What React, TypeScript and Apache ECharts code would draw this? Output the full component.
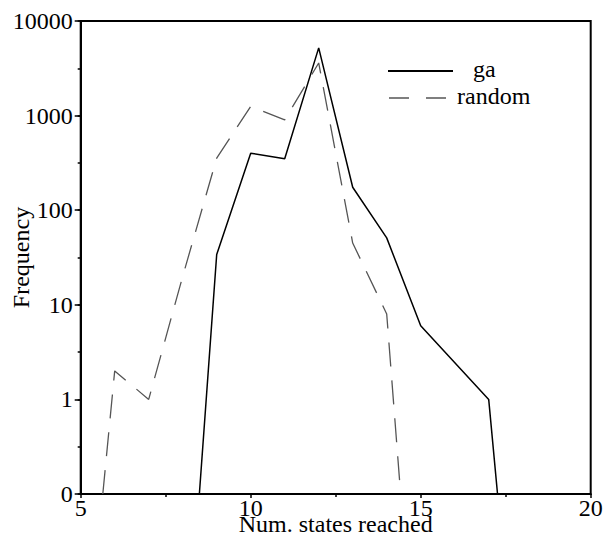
import React, { useEffect, useRef } from "react";
import * as echarts from "echarts";

// Number of states reached (x) and frequency (y); 0 frequency sits on the "0" floor of the log axis
const gaStates = [8.49, 9, 10, 11, 12, 13, 14, 15, 17, 17.26];
const gaFreq = [0, 34, 400, 350, 5200, 175, 51, 6, 1, 0];
const randomStates = [5.65, 6, 7, 8, 9, 10, 11, 12, 13, 14, 14.41];
const randomFreq = [0, 2, 1, 20, 355, 1250, 900, 3600, 45, 8, 0];
const seriesNames = ["ga", "random"];
const xTicks = [5, 10, 15, 20];
const yFloor = 0.1; // drawn as "0"
const yTop = 10000;

const FONT = "'Liberation Serif', 'Times New Roman', serif";
const FS = 24;

export default function App() {
  const ref = useRef<HTMLDivElement>(null);
  useEffect(() => {
    if (!ref.current) return;
    const chart = echarts.init(ref.current, undefined, { renderer: "svg" });
    const toData = (xs: number[], ys: number[]) =>
      xs.map((x, i) => [x, ys[i] <= 0 ? yFloor : ys[i]]);
    const gridLeft = 80.7;
    const gridTop = 21;
    const gridRight = 615 - 590.7;
    const gridBottom = 536 - 494;
    chart.setOption({
      animation: false,
      backgroundColor: "#fff",
      textStyle: { fontFamily: FONT },
      grid: {
        left: gridLeft,
        top: gridTop,
        right: gridRight,
        bottom: gridBottom,
        containLabel: false,
        outerBoundsMode: "none",
        show: true,
        borderColor: "#000",
        borderWidth: 2,
        backgroundColor: "transparent",
      },
      xAxis: {
        type: "value",
        min: xTicks[0],
        max: xTicks[xTicks.length - 1],
        interval: 5,
        name: "Num. states reached",
        nameLocation: "middle",
        nameGap: 18,
        nameMoveOverlap: false,
        nameTextStyle: { fontFamily: FONT, fontSize: FS, color: "#000" },
        axisLine: { show: true, onZero: false, lineStyle: { color: "#000", width: 2 } },
        axisTick: { show: true, length: 4, lineStyle: { color: "#000", width: 1.5 } },
        minorTick: { show: true, splitNumber: 2, length: 3, lineStyle: { color: "#000", width: 1.5 } },
        axisLabel: { fontFamily: FONT, fontSize: FS, color: "#000", margin: 2 },
        splitLine: { show: false },
      },
      yAxis: [
        {
          type: "log",
          logBase: 10,
          min: yFloor,
          max: yTop,
          splitNumber: 5,
          name: "Frequency",
          nameLocation: "middle",
          nameGap: 48,
          nameMoveOverlap: false,
          nameTextStyle: { fontFamily: FONT, fontSize: FS, color: "#000" },
          axisLine: { show: true, onZero: false, lineStyle: { color: "#000", width: 2 } },
          axisTick: { show: true, length: 6, lineStyle: { color: "#000", width: 1.5 } },
          axisLabel: {
            fontFamily: FONT,
            fontSize: FS,
            color: "#000",
            margin: 8,
            formatter: (v: number) => (v < 0.5 ? "0" : String(Math.round(v))),
          },
          splitLine: { show: false },
        },
        {
          type: "value",
          min: -1,
          max: 4,
          interval: 0.5,
          position: "left",
          axisLine: { show: false, onZero: false },
          axisTick: { show: true, length: 3, lineStyle: { color: "#000", width: 1.5 } },
          axisLabel: { show: false },
          splitLine: { show: false },
        },
      ],
      series: [
        {
          name: seriesNames[0],
          type: "line",
          data: toData(gaStates, gaFreq),
          showSymbol: false,
          symbol: "none",
          clip: true,
          lineStyle: { color: "#000", width: 1.5, type: "solid" },
        },
        {
          name: seriesNames[1],
          type: "line",
          data: toData(randomStates, randomFreq),
          showSymbol: false,
          symbol: "none",
          clip: true,
          lineStyle: { color: "#555", width: 1.3, type: [24, 14] },
        },
      ],
      graphic: [
        {
          type: "line",
          shape: { x1: 388, y1: 71, x2: 453, y2: 71 },
          style: { stroke: "#000", lineWidth: 2 },
        },
        {
          type: "line",
          shape: { x1: 389, y1: 98, x2: 447, y2: 98 },
          style: { stroke: "#555", lineWidth: 1.3, lineDash: [20, 17] },
        },
        {
          type: "text",
          x: 473,
          y: 69,
          style: { text: seriesNames[0], fontFamily: FONT, fontSize: FS, fill: "#000", verticalAlign: "middle", align: "left" },
        },
        {
          type: "text",
          x: 457,
          y: 96,
          style: { text: seriesNames[1], fontFamily: FONT, fontSize: FS, fill: "#000", verticalAlign: "middle", align: "left" },
        },
      ],
    });
    return () => chart.dispose();
  }, []);
  return (
    <div
      ref={ref}
      style={{ position: "fixed", left: 0, top: 0, width: 615, height: 536, background: "#fff" }}
    />
  );
}
